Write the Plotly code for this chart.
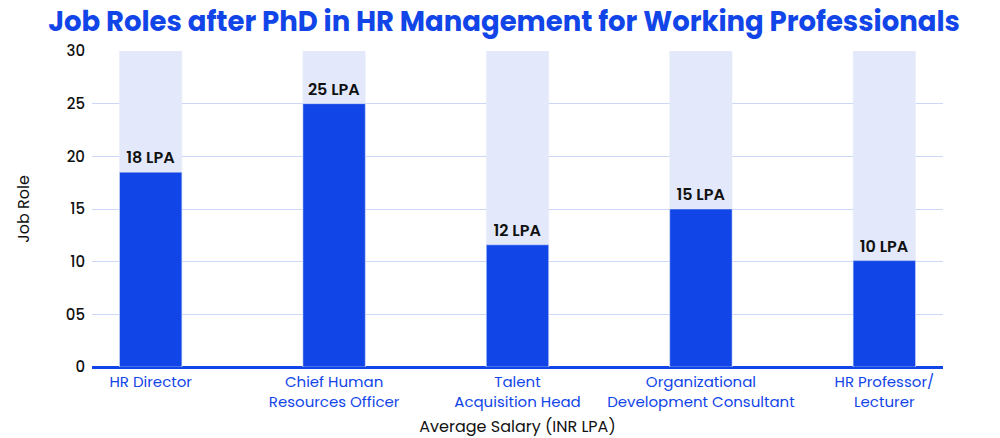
import plotly.graph_objects as go

roles = ["HR Director", "Chief Human<br>Resources Officer", "Talent<br>Acquisition Head",
         "Organizational<br>Development Consultant", "HR Professor/<br>Lecturer"]
salary = [18.5, 25, 11.6, 15, 10.1]
labels = ["18 LPA", "25 LPA", "12 LPA", "15 LPA", "10 LPA"]
track = [30, 30, 30, 30, 30]
ytick_vals = [0, 5, 10, 15, 20, 25, 30]
ytick_text = ["0", "05", "10", "15", "20", "25", "30"]

BLUE = "#1145e8"
FONT = "Poppins, Inter, sans-serif"

fig = go.Figure()
fig.add_trace(go.Bar(x=roles, y=track, marker_color="#e3e9fa", width=0.34,
                     hoverinfo="skip", showlegend=False))
fig.add_trace(go.Bar(x=roles, y=salary, marker_color=BLUE, width=0.34,
                     text=labels, textposition="outside",
                     textfont=dict(color="#111", size=16, family=FONT, weight=600),
                     cliponaxis=False, showlegend=False))

# page body has an 8px margin, so the figure is drawn 8px smaller and offset
fig.update_layout(
    barmode="overlay",
    width=992, height=430,
    margin=dict(l=84, r=57, t=43, b=71),
    plot_bgcolor="white", paper_bgcolor="white",
    font=dict(family=FONT),
    title=dict(text="<b>Job Roles after PhD in HR Management for Working Professionals</b>",
               x=0.5, xanchor="center", y=1 - 13 / 430, yanchor="middle",
               font=dict(size=27.5, color=BLUE, family=FONT)),
)
fig.update_xaxes(range=[-0.32, 4.32], tickfont=dict(color=BLUE, size=15),
                 title=dict(text="Average Salary (INR LPA)", font=dict(size=16, color="#111"), standoff=16),
                 showline=False, ticks="", automargin=False, ticklabelstandoff=4)
fig.update_yaxes(range=[0, 30], tickvals=ytick_vals, ticktext=ytick_text,
                 tickfont=dict(color="#111", size=15, weight=500),
                 gridcolor="#cdd7f7", gridwidth=1,
                 zeroline=True, zerolinecolor=BLUE, zerolinewidth=3,
                 title=dict(text="Job Role", font=dict(size=16, color="#111"), standoff=32),
                 ticklabelstandoff=6, automargin=False)

fig.write_html("out.html")
